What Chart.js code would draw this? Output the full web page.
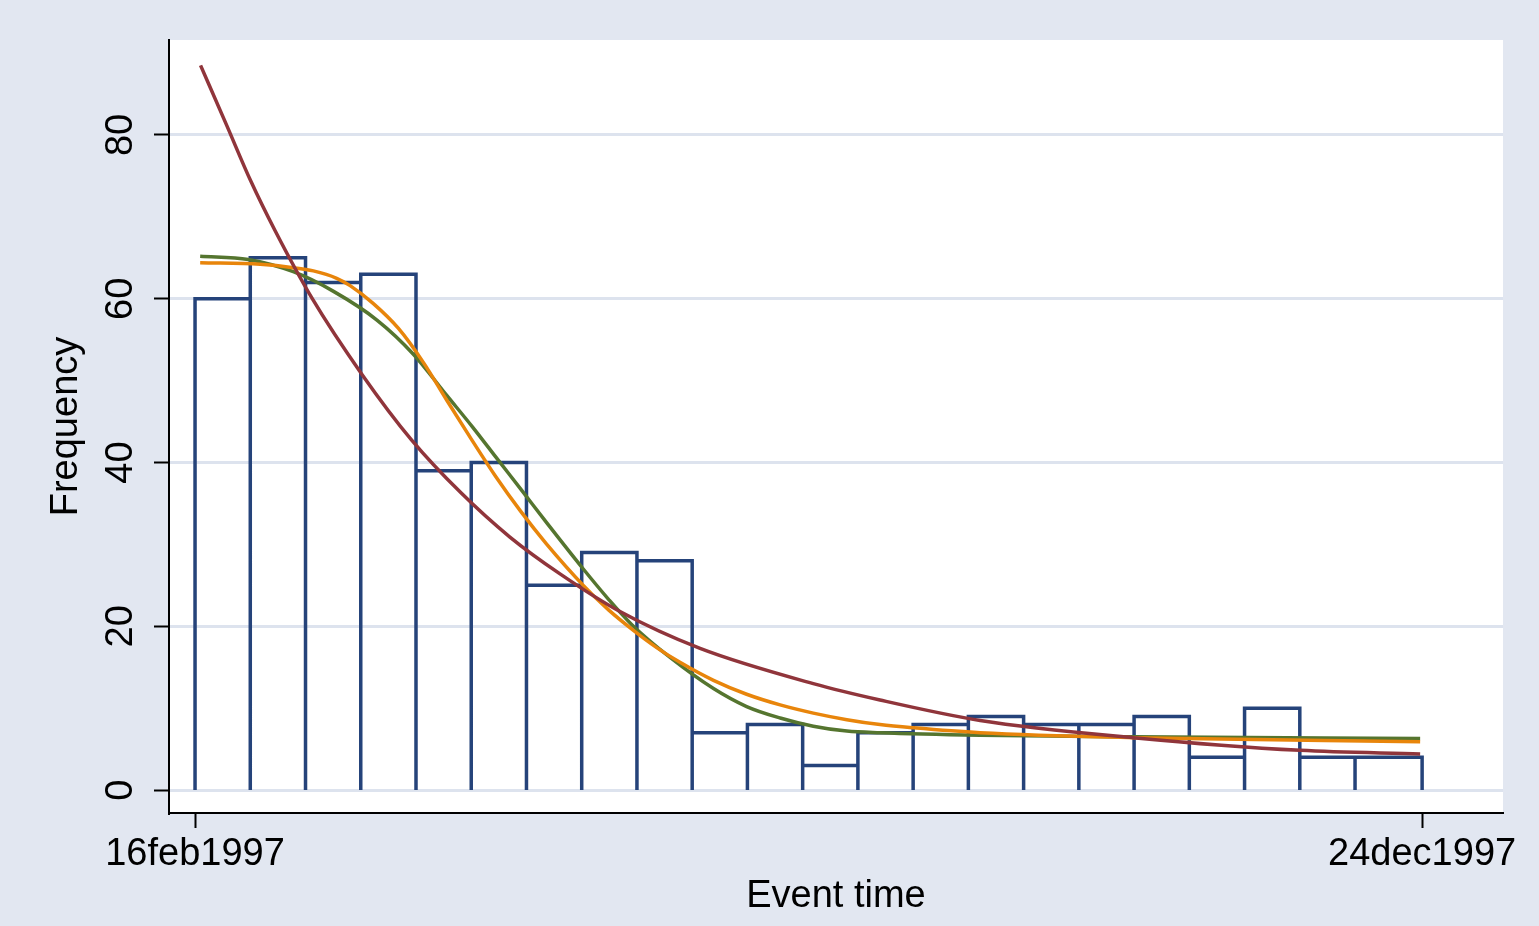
<!DOCTYPE html>
<html>
<head>
<meta charset="utf-8">
<script src="https://cdn.jsdelivr.net/npm/chart.js@4.4.1/dist/chart.umd.min.js"></script>
<style>
  html, body { margin: 0; padding: 0; background: #e2e7f1; }
  #wrap { width: 1539px; height: 926px; }
</style>
</head>
<body>
<div id="wrap"><canvas id="chart" width="1539" height="926"></canvas></div>
<script>
// x is counted in days from 16feb1997
const binEdges = [0, 14, 28, 42, 56, 70, 84, 98, 112, 126, 140, 154, 168, 182, 196, 210, 224, 238, 252, 266, 280, 294, 311];
const binCounts = [60, 65, 62, 63, 39, 40, 25, 29, 28, 7, 8, 3, 7, 8, 9, 8, 8, 9, 4, 10, 4, 4];

const xTickValues = [0, 311];
const xTickLabels = ['16feb1997', '24dec1997'];
const yTickValues = [0, 20, 40, 60, 80];

// fitted curves
const redDays = [1.4, 8.0, 14.1, 20.3, 29.6, 42.4, 54.8, 67.4, 79.8, 92.5, 107.7, 128.0, 156.7, 173.6, 199.0, 237.8, 280.1, 310.5];
const redFreq = [88.5, 81.2, 74.4, 68.3, 60.1, 50.7, 42.8, 36.3, 30.9, 26.4, 21.8, 17.3, 13.0, 11.0, 8.5, 6.4, 4.85, 4.4];

const greenDays = [1.3, 13.5, 24.9, 35.1, 46.1, 55.4, 63.8, 70.4, 76.5, 82.8, 89.2, 98.4, 104.8, 110.7, 120.4, 131.4, 139.8, 148.3, 156.7, 165.2, 173.6, 199.0, 237.8, 310.5];
const greenFreq = [65.2, 64.8, 63.3, 60.9, 57.4, 53.2, 48.2, 44.3, 40.5, 36.6, 32.6, 27.0, 23.3, 20.2, 16.2, 12.4, 10.2, 8.8, 7.8, 7.2, 7.0, 6.7, 6.5, 6.3];

const orangeDays = [1.3, 16.5, 24.9, 30.0, 35.9, 39.3, 45.2, 51.5, 57.9, 63.8, 70.1, 76.2, 82.6, 89.0, 98.4, 104.8, 111.1, 117.0, 122.9, 131.4, 139.8, 148.3, 156.7, 165.2, 173.6, 182.1, 199.0, 237.8, 310.5];
const orangeFreq = [64.4, 64.2, 63.8, 63.4, 62.5, 61.6, 59.4, 56.4, 52.2, 47.6, 42.8, 38.3, 34.0, 30.1, 25.0, 22.0, 19.5, 17.4, 15.6, 13.4, 11.7, 10.4, 9.4, 8.6, 8.0, 7.6, 7.0, 6.4, 5.9];

const BG = '#e2e7f1';
const GRID = '#dde3ee';
const NAVY = '#25437a';
const MAROON = '#90353b';
const GREEN = '#55752f';
const ORANGE = '#e8850b';
const FONT = { family: '"Liberation Sans", Arial, sans-serif', size: 38, lineHeight: 1.2 };

const pts = (xs, ys) => xs.map((x, i) => ({ x, y: ys[i] }));

// outline of the histogram: up, across, down for every bin
const histPath = [];
binCounts.forEach((n, i) => {
  histPath.push(
    { x: binEdges[i], y: 0 },
    { x: binEdges[i], y: n },
    { x: binEdges[i + 1], y: n },
    { x: binEdges[i + 1], y: 0 }
  );
});

const curve = (label, data, color, order) => ({
  label, data, order,
  borderColor: color,
  borderWidth: 3.5,
  pointRadius: 0,
  fill: false,
  cubicInterpolationMode: 'monotone',
});

const backdrop = {
  id: 'backdrop',
  beforeDraw(chart) {
    const { ctx, chartArea: a } = chart;
    ctx.save();
    ctx.fillStyle = BG;
    ctx.fillRect(0, 0, chart.width, chart.height);
    ctx.fillStyle = '#fff';
    ctx.fillRect(a.left, a.top, a.right - a.left, a.bottom - a.top);
    ctx.restore();
  },
};

// Stata-style vertical tick labels on the y axis
const yLabels = {
  id: 'yLabels',
  afterDraw(chart) {
    const { ctx } = chart;
    const y = chart.scales.y;
    ctx.save();
    ctx.font = `${FONT.size}px ${FONT.family}`;
    ctx.fillStyle = '#000';
    ctx.textAlign = 'center';
    ctx.textBaseline = 'middle';
    y.ticks.forEach(t => {
      ctx.save();
      ctx.translate(122, y.getPixelForValue(t.value));
      ctx.rotate(-Math.PI / 2);
      ctx.fillText(String(t.value), 0, 0);
      ctx.restore();
    });
    ctx.restore();
  },
};

new Chart(document.getElementById('chart'), {
  type: 'line',
  data: {
    datasets: [
      {
        label: 'Frequency',
        data: histPath,
        borderColor: NAVY,
        borderWidth: 3.5,
        borderJoinStyle: 'miter',
        pointRadius: 0,
        fill: false,
        tension: 0,
        order: 3,
      },
      curve('green', pts(greenDays, greenFreq), GREEN, 2),
      curve('orange', pts(orangeDays, orangeFreq), ORANGE, 1),
      curve('maroon', pts(redDays, redFreq), MAROON, 0),
    ],
  },
  options: {
    responsive: false,
    animation: false,
    events: [],
    layout: { padding: { top: 40, right: 36, bottom: 0, left: 0 } },
    plugins: { legend: { display: false }, tooltip: { enabled: false } },
    scales: {
      x: {
        type: 'linear',
        min: -6.6,
        max: 331.5,
        afterBuildTicks: s => { s.ticks = xTickValues.map(v => ({ value: v })); },
        afterFit: s => { s.height = 113; s.paddingLeft = 0; s.paddingRight = 0; },
        ticks: {
          color: '#000',
          font: FONT,
          padding: 4,
          maxRotation: 0,
          autoSkip: false,
          callback: (v, i) => xTickLabels[i],
        },
        grid: { drawOnChartArea: false, drawTicks: true, tickLength: 15, tickColor: '#000', tickWidth: 2, color: '#000' },
        border: { display: true, color: '#000', width: 2 },
        title: { display: true, text: 'Event time', color: '#000', font: FONT, padding: { top: 0, bottom: 7 } },
      },
      y: {
        type: 'linear',
        min: -2.8,
        max: 91.6,
        afterBuildTicks: s => { s.ticks = yTickValues.map(v => ({ value: v })); },
        afterFit: s => { s.width = 169; s.paddingTop = 0; s.paddingBottom = 0; },
        ticks: { display: false },
        grid: { color: GRID, lineWidth: 3, drawTicks: true, tickLength: 15, tickColor: '#000', tickWidth: 2 },
        border: { display: true, color: '#000', width: 2 },
        title: { display: true, text: 'Frequency', color: '#000', font: FONT, padding: { top: 44, bottom: 0 } },
      },
    },
  },
  plugins: [backdrop, yLabels],
});
</script>
</body>
</html>
